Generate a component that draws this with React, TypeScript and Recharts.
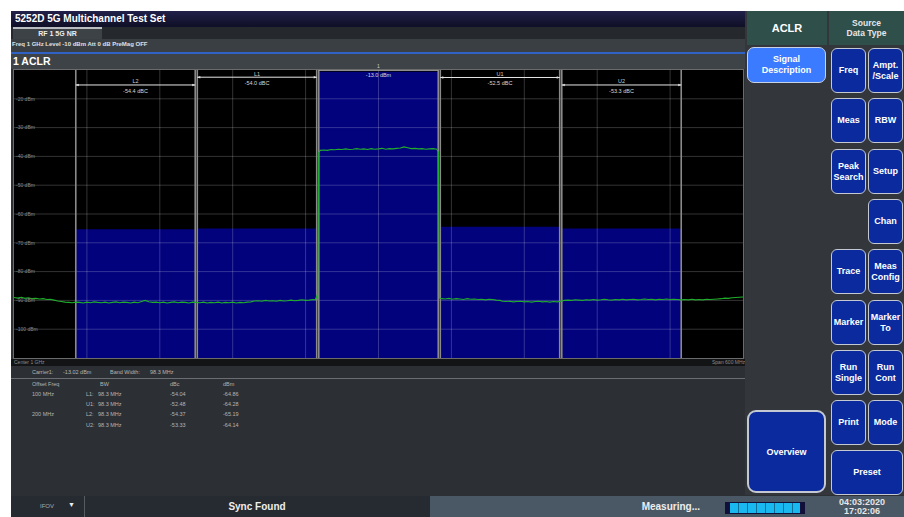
import React from 'react';
import { ComposedChart, Line, XAxis, YAxis, ReferenceArea, ReferenceLine } from 'recharts';

// ACLR channel plan (MHz) and measured channel power (dBm)
const channelNames = ['L2', 'L1', '', 'U1', 'U2'];
const channelCenters = [800, 900, 1000, 1100, 1200];
const channelBandwidth = 98.3;
const channelPower = [-65.3, -65.0, -10.6, -64.4, -65.0];
const channelReadouts = ['-54.4 dBC', '-54.0 dBC', '-13.0 dBm', '-52.5 dBC', '-53.3 dBC'];

const levelTicks = [-20, -30, -40, -50, -60, -70, -80, -90, -100];
const freqGridLines = [760, 820, 880, 940, 1000, 1060, 1120, 1180, 1240];

// spectrum trace: [MHz, dBm]
const tracePoints: [number, number][] = [
  [700, -89.0], [703, -89.2], [706, -88.9], [709, -89.3], [712, -89.1], [715, -89.4],
  [718, -89.3], [721, -89.5], [724, -89.4], [727, -89.7], [730, -89.6], [733, -89.9],
  [736, -90.2], [739, -90.4], [742, -90.6], [745, -90.7], [748, -90.8], [751, -90.6],
  [754, -90.7], [757, -90.9], [760, -90.6], [763, -90.8], [766, -90.5], [769, -90.7],
  [772, -90.8], [775, -90.6], [778, -90.9], [781, -90.7], [784, -90.5], [787, -90.8],
  [790, -90.6], [793, -90.7], [796, -90.9], [799, -90.6], [802, -90.8], [805, -90.4],
  [808, -90.0], [811, -90.5], [814, -90.7], [817, -90.6], [820, -90.8], [823, -90.6],
  [826, -90.9], [829, -90.7], [832, -90.5], [835, -90.8], [838, -90.6], [841, -90.7],
  [844, -90.9], [847, -90.6], [850, -90.7], [853, -90.8], [856, -90.6], [859, -90.9],
  [862, -90.7], [865, -90.8], [868, -90.6], [871, -90.9], [874, -90.7], [877, -90.8],
  [880, -90.6], [883, -90.9], [886, -90.7], [889, -90.8], [892, -90.6], [895, -90.5],
  [898, -90.2], [901, -90.1], [904, -90.3], [907, -90.0], [910, -90.2], [913, -90.1],
  [916, -90.3], [919, -90.0], [922, -90.2], [925, -90.1], [928, -89.9], [931, -90.1],
  [934, -90.0], [937, -89.8], [940, -90.0], [943, -89.9], [946, -89.7], [948, -89.8],
  [949.3, -88.4], [949.9, -89.9], [950.8, -38.6], [952, -37.9], [955, -37.8], [958, -37.9],
  [961, -37.6], [964, -37.7], [967, -37.5], [970, -37.6], [973, -37.4], [976, -37.6],
  [979, -37.5], [982, -37.3], [985, -37.5], [988, -37.4], [991, -37.6], [994, -37.3],
  [997, -37.5], [1000, -37.4], [1003, -37.2], [1006, -37.5], [1009, -37.3], [1012, -37.4],
  [1015, -37.2], [1018, -37.1], [1021, -36.7], [1024, -37.0], [1027, -37.3], [1030, -37.2],
  [1033, -37.4], [1036, -37.3], [1039, -37.5], [1042, -37.4], [1045, -37.3], [1048, -37.5],
  [1049.3, -38.5], [1050.2, -89.2], [1052, -89.4], [1055, -89.5], [1058, -89.3], [1061, -89.6],
  [1064, -89.4], [1067, -89.5], [1070, -89.7], [1073, -89.4], [1076, -89.6], [1079, -89.5],
  [1082, -89.7], [1085, -89.6], [1088, -89.8], [1091, -89.6], [1094, -89.7], [1097, -89.9],
  [1100, -90.0], [1102, -90.3], [1105, -90.4], [1108, -90.3], [1111, -90.5], [1114, -90.4],
  [1117, -90.3], [1120, -90.5], [1123, -90.4], [1126, -90.6], [1129, -90.4], [1132, -90.3],
  [1135, -90.5], [1138, -90.4], [1141, -90.6], [1144, -90.4], [1147, -90.5], [1150, -90.3],
  [1153, -90.0], [1156, -89.9], [1159, -90.0], [1162, -89.8], [1165, -89.9], [1168, -90.0],
  [1171, -89.8], [1174, -89.9], [1177, -89.7], [1180, -89.9], [1183, -89.8], [1186, -89.6],
  [1189, -89.8], [1192, -89.9], [1195, -89.7], [1198, -89.8], [1201, -89.6], [1204, -89.8],
  [1207, -89.7], [1210, -89.6], [1213, -89.8], [1216, -89.7], [1219, -89.5], [1222, -89.7],
  [1225, -89.6], [1228, -89.8], [1231, -89.6], [1234, -89.7], [1237, -89.5], [1240, -89.7],
  [1243, -89.6], [1246, -89.7], [1249, -89.8], [1252, -89.7], [1255, -89.8], [1258, -89.6],
  [1261, -89.8], [1264, -89.7], [1267, -89.8], [1270, -89.6], [1273, -89.7], [1276, -89.6],
  [1279, -89.5], [1282, -89.4], [1285, -89.2], [1288, -89.3], [1291, -89.1], [1294, -89.0],
  [1297, -88.9], [1300, -88.8],
];

// results table
const offsetFreqs = ['100 MHz', '', '200 MHz', ''];
const offsetSides = ['L1:', 'U1:', 'L2:', 'U2:'];
const offsetBw = ['98.3 MHz', '98.3 MHz', '98.3 MHz', '98.3 MHz'];
const offsetDbc = ['-54.04', '-52.48', '-54.37', '-53.33'];
const offsetDbm = ['-64.86', '-64.28', '-65.19', '-64.14'];

// soft keys, two columns
const softKeys = [
  ['Freq', 'Ampt.\n/Scale'],
  ['Meas', 'RBW'],
  ['Peak\nSearch', 'Setup'],
  ['', 'Chan'],
  ['Trace', 'Meas\nConfig'],
  ['Marker', 'Marker\nTo'],
  ['Run\nSingle', 'Run\nCont'],
  ['Print', 'Mode'],
];

const UI_FONT = '"Liberation Sans", Arial, sans-serif';
const NARROW_FONT = '"Liberation Sans Narrow", "Liberation Sans", Arial, sans-serif';

const abs = (left: number, top: number, width: number, height: number): React.CSSProperties => ({
  position: 'absolute',
  left,
  top,
  width,
  height,
  boxSizing: 'border-box',
});

const bracketY = [-15.2, -12.5, -10.15, -12.6, -15.2];

const bracketLabel = (name: string, readout: string) => (props: any) => {
  const vb = props.viewBox || {};
  const x = vb.x ?? 0;
  const y = vb.y ?? 0;
  const w = vb.width ?? 0;
  const cx = x + w / 2;
  return (
    <g>
      {name && (
        <text x={cx} y={y - 3.5} textAnchor="middle" dominantBaseline="central" fill="#cfcfcf" fontSize={5.5}>
          {name}
        </text>
      )}
      <text x={cx} y={y + (name ? 6 : 5)} textAnchor="middle" dominantBaseline="central" fill="#d8d8d8" fontSize={5.5}>
        {readout}
      </text>
      {name && (
        <path d={`M${x},${y} l3,-1.3 v2.6 z M${x + w},${y} l-3,-1.3 v2.6 z`} fill="#e0e0e0" />
      )}
    </g>
  );
};

function AclrTrace() {
  const data = tracePoints.map(([freq, level]) => ({ freq, level }));
  const half = channelBandwidth / 2;
  return (
    <ComposedChart width={729} height={288} data={data} margin={{ top: 0, right: 0, bottom: 0, left: 0 }}>
      <XAxis type="number" dataKey="freq" domain={[700, 1300]} hide allowDataOverflow />
      <YAxis type="number" domain={[-110, -10]} hide allowDataOverflow />
      {channelCenters.map((c, i) => (
        <ReferenceArea
          key={`area-${i}`}
          x1={c - half}
          x2={c + half}
          y1={-110}
          y2={channelPower[i]}
          fill="#02027d"
          fillOpacity={1}
          stroke="none"
        />
      ))}
      {freqGridLines.map((f) => (
        <ReferenceLine key={`gx-${f}`} x={f} stroke="rgba(255,255,255,0.2)" strokeWidth={1} />
      ))}
      {levelTicks.map((l) => (
        <ReferenceLine
          key={`gy-${l}`}
          y={l}
          stroke="rgba(255,255,255,0.2)"
          strokeWidth={1}
          label={{ value: `${l} dBm`, position: 'insideLeft', offset: 2, fill: '#8c8c8c', fontSize: 5 }}
        />
      ))}
      {channelCenters.map((c, i) => (
        <ReferenceLine key={`el-${i}`} x={c - half} stroke="#8a8a8a" strokeWidth={1.6} />
      ))}
      {channelCenters.map((c, i) => (
        <ReferenceLine key={`er-${i}`} x={c + half} stroke="#8a8a8a" strokeWidth={1.6} />
      ))}
      {channelCenters.map((c, i) => (
        <ReferenceLine
          key={`br-${i}`}
          segment={[
            { x: c - half, y: bracketY[i] },
            { x: c + half, y: bracketY[i] },
          ]}
          stroke={channelNames[i] ? '#e6e6e6' : '#9a9a9a'}
          strokeWidth={1}
          label={bracketLabel(channelNames[i], channelReadouts[i])}
        />
      ))}
      <Line
        type="linear"
        dataKey="level"
        stroke="#20ad2c"
        strokeWidth={1.1}
        dot={false}
        isAnimationActive={false}
      />
    </ComposedChart>
  );
}

const tiny: React.CSSProperties = { position: 'absolute', fontSize: 5.5, color: '#b4b4b4', whiteSpace: 'nowrap', lineHeight: '6px' };

function SoftKey({ label, left, top, width, height }: { label: string; left: number; top: number; width: number; height: number }) {
  return (
    <div
      style={{
        ...abs(left, top, width, height),
        background: '#0a2a9e',
        border: '1.5px solid #c4c8d2',
        borderRadius: 6,
        color: '#fff',
        fontWeight: 700,
        fontSize: 9,
        lineHeight: '11px',
        display: 'flex',
        alignItems: 'center',
        justifyContent: 'center',
        textAlign: 'center',
        whiteSpace: 'pre',
      }}
    >
      {label}
    </div>
  );
}

export default function App() {
  const rowTops = [394, 404, 414, 425];
  return (
    <div style={{ ...abs(0, 0, 904, 517), background: '#fff', overflow: 'hidden', fontFamily: UI_FONT }}>
      <div style={{ ...abs(11, 11, 893, 506), background: '#2c3034' }} />

      {/* title bar */}
      <div
        style={{
          ...abs(11, 11, 734, 16),
          background: 'linear-gradient(#20204a, #0f0f26)',
          color: '#fff',
          fontWeight: 700,
          fontSize: 10,
          lineHeight: '16px',
          paddingLeft: 4,
        }}
      >
        5252D 5G Multichannel Test Set
      </div>

      {/* tab row */}
      <div style={{ ...abs(11, 27, 734, 12), background: '#25292e' }} />
      <div
        style={{
          ...abs(13, 27, 89, 12),
          background: '#3d4247',
          borderTop: '2px solid #b9bcc0',
          color: '#eee',
          fontSize: 7,
          fontWeight: 700,
          lineHeight: '10px',
          textAlign: 'center',
        }}
      >
        RF 1 5G NR
      </div>
      <div style={{ ...abs(11, 39, 734, 13), background: '#3a3f44' }} />
      <div style={{ ...tiny, left: 12, top: 41, color: '#e0e0e0', fontSize: 6, fontWeight: 700 }}>
        Freq 1 GHz Level -10 dBm Att 0 dB PreMag OFF
      </div>
      <div style={{ ...abs(11, 52, 734, 2), background: '#2f62c4' }} />

      {/* measurement header */}
      <div
        style={{
          ...abs(11, 54, 734, 15),
          background: '#3e4348',
          color: '#fff',
          fontWeight: 700,
          fontSize: 10.5,
          lineHeight: '15px',
          paddingLeft: 2,
        }}
      >
        1 ACLR
      </div>
      <div style={{ ...tiny, left: 377, top: 63, fontSize: 5, color: '#ccc' }}>1</div>

      {/* plot */}
      <div style={{ ...abs(13, 69, 731, 290), border: '1px solid #6b6b6b', background: '#000' }}>
        <AclrTrace />
      </div>
      <div style={{ ...abs(11, 359, 734, 7), background: '#121416' }} />
      <div style={{ ...tiny, left: 14, top: 359, fontSize: 5, color: '#8c8c8c' }}>Center 1 GHz</div>
      <div style={{ ...tiny, left: 712, top: 359, fontSize: 5, color: '#8c8c8c' }}>Span 600 MHz</div>

      {/* results */}
      <div style={{ ...tiny, left: 32, top: 369 }}>Carrier1:</div>
      <div style={{ ...tiny, left: 63, top: 369 }}>-13.02 dBm</div>
      <div style={{ ...tiny, left: 110, top: 369 }}>Band Width:</div>
      <div style={{ ...tiny, left: 150, top: 369 }}>98.3 MHz</div>
      <div style={{ ...abs(11, 378, 734, 1), background: '#6a6e73' }} />
      <div style={{ ...tiny, left: 32, top: 381 }}>Offset Freq</div>
      <div style={{ ...tiny, left: 100, top: 381 }}>BW</div>
      <div style={{ ...tiny, left: 170, top: 381 }}>dBc</div>
      <div style={{ ...tiny, left: 223, top: 381 }}>dBm</div>
      {offsetSides.map((side, i) => (
        <React.Fragment key={side}>
          <div style={{ ...tiny, left: 32, top: rowTops[i] - 3 }}>{offsetFreqs[i]}</div>
          <div style={{ ...tiny, left: 86, top: rowTops[i] - 3 }}>{side}</div>
          <div style={{ ...tiny, left: 98, top: rowTops[i] - 3 }}>{offsetBw[i]}</div>
          <div style={{ ...tiny, left: 170, top: rowTops[i] - 3 }}>{offsetDbc[i]}</div>
          <div style={{ ...tiny, left: 223, top: rowTops[i] - 3 }}>{offsetDbm[i]}</div>
        </React.Fragment>
      ))}

      {/* right panel */}
      <div style={{ ...abs(745, 11, 159, 484), background: '#33373b' }} />
      <div
        style={{
          ...abs(747, 11, 80, 34),
          background: '#2f4f4a',
          color: '#fff',
          fontWeight: 700,
          fontSize: 11,
          display: 'flex',
          alignItems: 'center',
          justifyContent: 'center',
        }}
      >
        ACLR
      </div>
      <div
        style={{
          ...abs(829, 11, 75, 34),
          background: '#2f4f4a',
          color: '#e6e6e6',
          fontWeight: 700,
          fontSize: 8.5,
          lineHeight: '10px',
          display: 'flex',
          alignItems: 'center',
          justifyContent: 'center',
          textAlign: 'center',
          whiteSpace: 'pre',
        }}
      >
        {'Source\nData Type'}
      </div>
      <div
        style={{
          ...abs(747, 47, 79, 36),
          background: '#3a7bff',
          border: '1.5px solid #c8d2e6',
          borderRadius: 7,
          color: '#fff',
          fontWeight: 700,
          fontSize: 9,
          lineHeight: '11px',
          display: 'flex',
          alignItems: 'center',
          justifyContent: 'center',
          textAlign: 'center',
          whiteSpace: 'pre',
        }}
      >
        {'Signal\nDescription'}
      </div>
      {softKeys.map((row, r) =>
        row.map((label, c) =>
          label ? (
            <SoftKey
              key={`${r}-${c}`}
              label={label}
              left={c === 0 ? 831 : 868}
              top={Math.round(48 + r * 50.3)}
              width={35}
              height={45}
            />
          ) : null,
        ),
      )}
      <SoftKey label="Preset" left={831} top={450} width={72} height={45} />
      <div
        style={{
          ...abs(747, 410, 79, 83),
          background: '#0a2a9e',
          border: '2px solid #c4c8d2',
          borderRadius: 9,
          color: '#fff',
          fontWeight: 700,
          fontSize: 9,
          display: 'flex',
          alignItems: 'center',
          justifyContent: 'center',
        }}
      >
        Overview
      </div>

      {/* status bar */}
      <div style={{ ...abs(11, 496, 419, 21), background: '#262b31' }} />
      <div style={{ ...abs(84, 496, 1, 21), background: '#555b62' }} />
      <div style={{ ...abs(430, 496, 474, 21), background: '#4a5764' }} />
      <div style={{ ...tiny, left: 40, top: 503, fontSize: 6, color: '#aaa' }}>IFOV</div>
      <div style={{ ...tiny, left: 68, top: 502, fontSize: 7, color: '#eee' }}>▼</div>
      <div
        style={{
          ...abs(84, 496, 346, 21),
          color: '#eee',
          fontFamily: NARROW_FONT,
          fontWeight: 700,
          fontSize: 10,
          lineHeight: '21px',
          textAlign: 'center',
        }}
      >
        Sync Found
      </div>
      <div
        style={{
          ...abs(595, 496, 105, 21),
          color: '#eee',
          fontFamily: NARROW_FONT,
          fontWeight: 700,
          fontSize: 10,
          lineHeight: '21px',
          textAlign: 'right',
        }}
      >
        Measuring...
      </div>
      <div style={{ ...abs(725, 502, 80, 12), background: '#10103a', padding: '1px 5px' }}>
        <div style={{ width: '100%', height: '100%', background: 'repeating-linear-gradient(90deg, #19b8f0 0 8px, #0e6f98 8px 9px)' }} />
      </div>
      <div
        style={{
          ...abs(820, 496, 84, 21),
          color: '#e6e6e6',
          fontFamily: NARROW_FONT,
          fontWeight: 700,
          fontSize: 9,
          lineHeight: '9px',
          textAlign: 'center',
          paddingTop: 2,
        }}
      >
        04:03:2020
        <br />
        17:02:06
      </div>
    </div>
  );
}
